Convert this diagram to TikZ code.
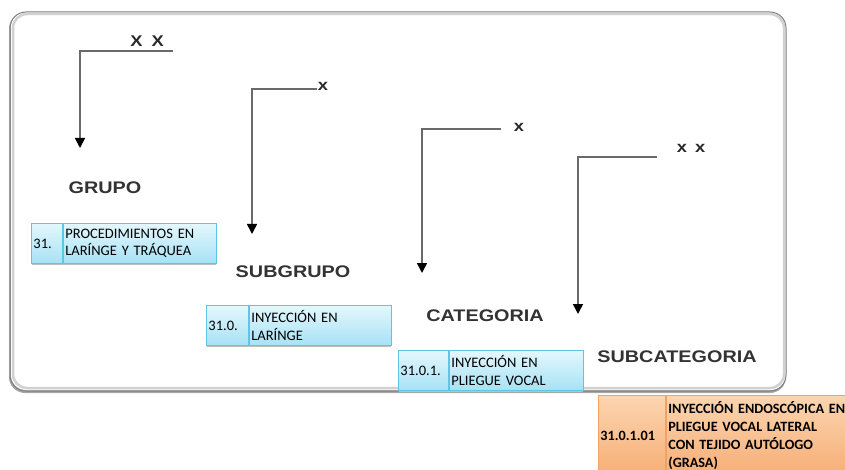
\documentclass[tikz,border=0pt]{standalone}
\usepackage{fontspec}
\setmainfont{Carlito}
\newfontfamily\labfont{Liberation Sans}[FakeStretch=1.18]
\usetikzlibrary{arrows.meta}
\definecolor{lblue}{HTML}{E4F7FD}
\definecolor{dblue}{HTML}{A6E2F5}
\definecolor{bblue}{HTML}{5CC6E4}
\definecolor{lorange}{HTML}{FCD5B0}
\definecolor{dorange}{HTML}{F6AE76}
\definecolor{borange}{HTML}{F3A262}
\definecolor{labgray}{HTML}{333333}
\definecolor{linegray}{HTML}{6A6A6A}
\tikzset{
  x=1pt, y=-1pt,
  levellabel/.style={font=\labfont\bfseries\fontsize{16.8}{18}\selectfont, text=labgray, inner sep=0pt},
  xmark/.style={font=\labfont\bfseries\fontsize{15.5}{17}\selectfont, text=labgray!80!black, inner sep=0pt},
  elbow/.style={draw=linegray, line width=1.6pt, -{Triangle[width=10pt,length=10pt,color=black]}},
  cell/.style={anchor=north west, inner xsep=2pt, inner ysep=0pt, align=left,
    font=\fontsize{14.5}{17.5}\selectfont, line width=0.9pt},
  bluecell/.style={cell, draw=bblue, top color=lblue, bottom color=dblue},
  orangecell/.style={cell, draw=borange, top color=lorange, bottom color=dorange,
    font=\bfseries\fontsize{14.2}{17.8}\selectfont},
  boxshadow/.style={fill=black!25},
}
\begin{document}
\begin{tikzpicture}
\useasboundingbox (0,0) rectangle (845,470);
% outer panel
\fill[black!35, rounded corners=16pt] (9,13) rectangle (786,393);
\fill[white, rounded corners=15pt] (11,12) rectangle (786,390);
\draw[black!18, line width=2.5pt, rounded corners=14pt] (13,14) rectangle (784,388);
\draw[black!50, line width=1pt, rounded corners=16pt] (10,12) rectangle (786,391);

% x marks
\node[xmark] (x1) at (147,41) {X\hspace{9pt}X};
\node[xmark] (x2) at (323,86) {x};
\node[xmark] (x3) at (519,127) {x};
\node[xmark] (x4) at (691,148) {x\hspace{8pt}x};

% connectors
\coordinate (s1) at (173,51);  \coordinate (t1) at (80,148);
\coordinate (s2) at (317,89);  \coordinate (t2) at (252,234);
\coordinate (s3) at (501,129); \coordinate (t3) at (422,273);
\coordinate (s4) at (657,157); \coordinate (t4) at (578,314);
\draw[elbow] (s1) -| (t1);
\draw[elbow] (s2) -| (t2);
\draw[elbow] (s3) -| (t3);
\draw[elbow] (s4) -| (t4);

% level labels
\node[levellabel] (grupo) at (105,188) {GRUPO};
\node[levellabel] (subgrupo) at (293,272) {SUBGRUPO};
\node[levellabel] (categoria) at (485,316) {CATEGORIA};
\node[levellabel] (subcategoria) at (677,357) {SUBCATEGORIA};

% box 1
\fill[boxshadow] (32,225) rectangle (216,265);
\node[bluecell, minimum width=31pt, minimum height=40pt, text width=27pt] (b1n) at (31,223) {31.};
\node[bluecell, minimum width=153pt, minimum height=40pt, text width=149pt] (b1t) at (b1n.north east) {PROCEDIMIENTOS EN\\LARÍNGE Y TRÁQUEA};

% box 2
\fill[boxshadow] (207,307) rectangle (391,347);
\node[bluecell, minimum width=42pt, minimum height=40pt, text width=38pt] (b2n) at (206,305) {31.0.};
\node[bluecell, minimum width=142pt, minimum height=40pt, text width=138pt] (b2t) at (b2n.north east) {INYECCIÓN EN\\LARÍNGE};

% box 3
\fill[boxshadow] (399,352) rectangle (583,392);
\node[bluecell, minimum width=50pt, minimum height=40pt, text width=46pt] (b3n) at (398,350) {31.0.1.};
\node[bluecell, minimum width=134pt, minimum height=40pt, text width=130pt] (b3t) at (b3n.north east) {INYECCIÓN EN\\PLIEGUE VOCAL};

% box 4
\node[orangecell, minimum width=67pt, minimum height=80pt, text width=63pt] (b4n) at (598,395) {31.0.1.01};
\node[orangecell, minimum width=200pt, minimum height=80pt, text width=196pt, inner xsep=1pt] (b4t) at (b4n.north east) {INYECCIÓN ENDOSCÓPICA EN\\PLIEGUE VOCAL LATERAL\\CON TEJIDO AUTÓLOGO\\(GRASA)};
\end{tikzpicture}
\end{document}
